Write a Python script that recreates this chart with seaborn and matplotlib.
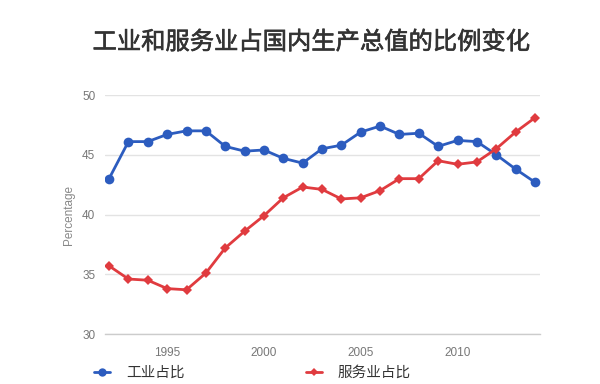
import matplotlib
matplotlib.use("Agg")
import matplotlib.pyplot as plt
import matplotlib.patheffects as pe
import seaborn as sns
import pandas as pd

# Data
years = list(range(1992, 2015))
industry = [43.0, 46.1, 46.1, 46.7, 47.0, 47.0, 45.7, 45.3, 45.4, 44.7, 44.3, 45.5,
            45.8, 46.9, 47.4, 46.7, 46.8, 45.7, 46.2, 46.1, 45.0, 43.8, 42.7]
services = [35.7, 34.6, 34.5, 33.8, 33.7, 35.1, 37.2, 38.6, 39.9, 41.4, 42.3, 42.1,
            41.3, 41.4, 42.0, 43.0, 43.0, 44.5, 44.2, 44.4, 45.5, 46.9, 48.1]
series_names = ["工业占比", "服务业占比"]
title = "工业和服务业占国内生产总值的比例变化"

df = pd.DataFrame({
    "year": years * 2,
    "value": industry + services,
    "series": [series_names[0]] * len(years) + [series_names[1]] * len(years),
})

sns.set_theme(style="white")
plt.rcParams["font.family"] = ["Noto Sans CJK SC", "DejaVu Sans"]

colors = {series_names[0]: "#2c5cbf", series_names[1]: "#e03b3f"}
markers = {series_names[0]: "o", series_names[1]: "D"}

fig = plt.figure(figsize=(6, 3.84), dpi=100)
fig.patch.set_facecolor("white")
ax = fig.add_axes([0.175, 0.1302, 0.725, 0.6224])

sns.lineplot(data=df, x="year", y="value", hue="series", style="series",
             palette=colors, markers=markers, dashes=False, linewidth=2,
             markeredgewidth=0, ax=ax, legend=False)
# marker sizes differ per series
for line, ms in zip(ax.get_lines(), [7, 5]):
    line.set_markersize(ms)

ax.set_xlim(1991.79, 2014.26)
ax.set_ylim(30, 50)
ax.set_yticks([30, 35, 40, 45, 50])
ax.set_xticks([1995, 2000, 2005, 2010])
ax.grid(axis="y", color="#e3e3e3", linewidth=1)
ax.set_axisbelow(True)
for side in ["top", "right", "left"]:
    ax.spines[side].set_visible(False)
ax.spines["bottom"].set_color("#cccccc")
ax.spines["bottom"].set_linewidth(1)
ax.tick_params(axis="x", length=8, color="#dddddd", labelsize=8.5, labelcolor="#777777", pad=1)
ax.tick_params(axis="y", length=0, labelsize=8.5, labelcolor="#777777", pad=7)
for lbl in ax.get_xticklabels() + ax.get_yticklabels():
    lbl.set_family(["Liberation Sans", "DejaVu Sans"])
ax.set_xlabel("")
ax.set_ylabel("Percentage", fontsize=8.5, color="#888888", labelpad=5,
              family=["Liberation Sans", "DejaVu Sans"])

t = fig.text(0.518, 0.89, title, ha="center", va="center", fontsize=17.5,
             color="#333333")
t.set_path_effects([pe.withStroke(linewidth=0.45, foreground="#333333")])

# legend along the bottom edge
handles = [
    plt.Line2D([], [], color=colors[series_names[0]], marker="o", markersize=6,
               markeredgewidth=0, linewidth=2),
    plt.Line2D([], [], color=colors[series_names[1]], marker="D", markersize=4,
               markeredgewidth=0, linewidth=2),
]
fig.legend(handles, series_names, loc="center left", bbox_to_anchor=(0.145, 0.028),
           ncol=2, frameon=False, fontsize=10.5, handlelength=1.1, handletextpad=1.1,
           columnspacing=8.3, labelcolor="#333333", borderpad=0)

fig.savefig("out.png", dpi=100, facecolor="white")
